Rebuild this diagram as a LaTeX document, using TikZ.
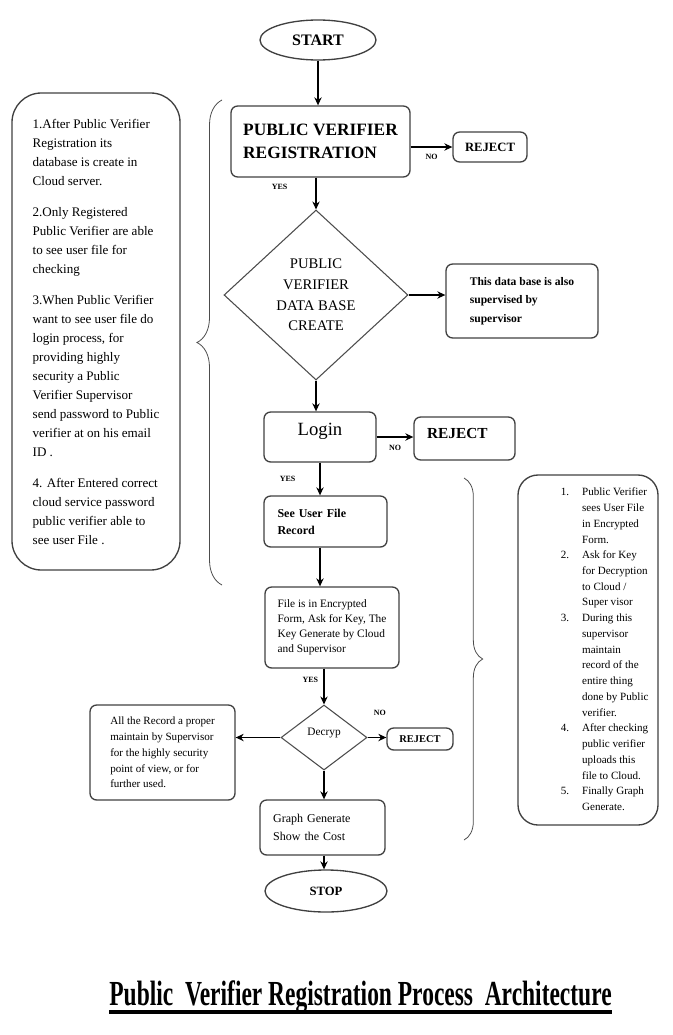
\documentclass[tikz,border=0pt]{standalone}
\usepackage{fontspec}
\setmainfont{Liberation Serif}
\usepackage{graphicx}
\usetikzlibrary{arrows.meta,shapes.geometric,decorations.pathreplacing}

\begin{document}
\begin{tikzpicture}[%
>={Stealth[length=6pt,width=5.5pt]},
x=0.75pt,
y=-0.75pt,
box/.style={draw=black!75, line width=1pt, rounded corners=5pt, align=left, inner sep=2pt},
term/.style={ellipse, draw=black!75, line width=1pt, inner sep=0pt},
test/.style={diamond, draw=black!70, line width=0.8pt, inner sep=0pt, align=center},
note/.style={box, rounded corners=#1},
lab/.style={font=\bfseries\fontsize{6}{7}\selectfont, inner sep=1pt},
flow/.style={->, line width=0.9pt},
curly/.style={draw=black!70, line width=0.6pt, decorate, decoration={brace, amplitude=#1}}
]
\useasboundingbox (0,0) rectangle (673,1035);

% main flow
\node[term, minimum width=87pt, minimum height=30pt, font=\bfseries\fontsize{12}{14}\selectfont] (start) at (318,40) {START};
\node[box, minimum width=134.25pt, minimum height=53.25pt, font=\bfseries\fontsize{13}{17.25}\selectfont] (reg) at (320.5,141.5) {PUBLIC VERIFIER\\ REGISTRATION};
\node[box, minimum width=55.5pt, minimum height=22.5pt, font=\bfseries\fontsize{9.5}{11}\selectfont] (rej1) at (490,147) {REJECT};
\node[test, minimum width=138pt, minimum height=127.5pt, font=\fontsize{11}{15.5}\selectfont] (db) at (316,295) {PUBLIC\\ VERIFIER\\ DATA BASE\\ CREATE};
\node[box, minimum width=114pt, minimum height=55.5pt, font=\bfseries\fontsize{8.7}{14}\selectfont] (sup) at (522,301) {This data base is also\\ supervised by\\ supervisor};
\node[box, minimum width=84pt, minimum height=37.5pt, text depth=12pt, font=\fontsize{14}{16}\selectfont] (login) at (320,437) {Login};
\node[box, minimum width=75.75pt, minimum height=32.25pt, text width=56pt, text depth=8pt, font=\bfseries\fontsize{11.5}{13}\selectfont] (rej2) at (464.5,438.5) {REJECT};
\node[box, minimum width=92.25pt, minimum height=38.25pt, text width=72pt, font=\bfseries\fontsize{9}{12.75}\selectfont] (see) at (325.5,521.5) {See User File\\ Record};
\node[box, minimum width=100.5pt, minimum height=60.75pt, font=\fontsize{8.5}{11.25}\selectfont] (file) at (332,627.5) {File is in Encrypted\\ Form, Ask for Key, The\\ Key Generate by Cloud\\ and Supervisor};
\node[test, minimum width=64.5pt, minimum height=48.75pt, text depth=8pt, font=\fontsize{8.5}{10}\selectfont] (dec) at (324,737.5) {Decryp};
\node[box, minimum width=49.5pt, minimum height=16.5pt, font=\bfseries\fontsize{7.8}{9}\selectfont] (rej3) at (420,739) {REJECT};
\node[box, minimum width=108.75pt, minimum height=71.25pt, font=\fontsize{8.3}{11.8}\selectfont] (rec) at (162.5,752.5) {All the Record a proper\\ maintain by Supervisor\\ for the highly security\\ point of view, or for\\ further used.};
\node[box, minimum width=93.75pt, minimum height=41.25pt, text width=74pt, font=\fontsize{9}{13.5}\selectfont] (graph) at (322.5,827.5) {Graph Generate\\ Show the Cost};
\node[term, minimum width=91.5pt, minimum height=31.5pt, font=\bfseries\fontsize{9.5}{11}\selectfont] (stop) at (326,891) {STOP};

% side notes
\node[note=22pt, minimum width=126pt, minimum height=357.75pt, font=\fontsize{9.8}{14.25}\selectfont] (note1) at (96,331.5) {1.After Public Verifier\\ Registration its\\ database is create in\\ Cloud server.\\[9pt]
2.Only Registered\\ Public Verifier are able\\ to see user file for\\ checking\\[9pt]
3.When Public Verifier\\ want to see user file do\\ login process, for\\ providing highly\\ security a Public\\ Verifier Supervisor\\ send password to Public\\ verifier at on his email\\ ID .\\[9pt]
4. After Entered correct\\ cloud service password\\ public verifier able to\\ see user File .};
\node[note=15pt, minimum width=105pt, minimum height=262.5pt, font=\fontsize{8.3}{11.8}\selectfont] (note2) at (588,650) {%
\begin{tabular}{@{\hspace{25pt}}p{13pt}@{\hspace{3pt}}l@{}}
1. & Public Verifier\\
   & sees User File\\
   & in Encrypted\\
   & Form.\\
2. & Ask for Key\\
   & for Decryption\\
   & to Cloud /\\
   & Super visor\\
3. & During this\\
   & supervisor\\
   & maintain\\
   & record of the\\
   & entire thing\\
   & done by Public\\
   & verifier.\\
4. & After checking\\
   & public verifier\\
   & uploads this\\
   & file to Cloud.\\
5. & Finally Graph\\
   & Generate.
\end{tabular}};

\draw[curly=18.75pt] (222,585) -- (222,100);
\draw[curly=14pt] (464,478) -- (464,840);

% connectors
\draw[flow] (start) -- (start |- reg.north);
\draw[flow] (reg.east |- rej1) -- node[lab, below=4pt] {NO} (rej1.west);
\draw[flow] (reg.south -| db.north) -- node[lab, pos=0.3, left=20pt] {YES} (db.north);
\draw[flow] (db.east) -- (db.east -| sup.west);
\draw[flow] (db.south) -- (db.south |- login.north);
\draw[flow] (login.east) -- node[lab, below=5pt] {NO} (login.east -| rej2.west);
\draw[flow] (login.south) -- node[lab, left=17pt] {YES} (login.south |- see.north);
\draw[flow] (login.south |- see.south) -- (login.south |- file.north);
\draw[flow] (dec.north |- file.south) -- node[lab, pos=0.3, left=3pt] {YES} (dec.north);
\draw[flow] (dec.east) -- node[lab, pos=0.65, above=15pt] {NO} (dec.east -| rej3.west);
\draw[flow] (dec.west) -- (dec.west -| rec.east);
\draw[flow] (dec.south) -- (dec.south |- graph.north);
\draw[flow] (dec.south |- graph.south) -- (dec.south |- stop.north);

% title
\node[inner sep=0pt, anchor=base, font=\bfseries\fontsize{17.6}{20}\selectfont] (title) at (360.5,1005) {\scalebox{1}[1.5]{Public\ \ Verifier Registration Process\ \ Architecture}};
\draw[line width=3pt] ([yshift=-5.25pt]title.base west) -- ([yshift=-5.25pt]title.base east);
\end{tikzpicture}
\end{document}
